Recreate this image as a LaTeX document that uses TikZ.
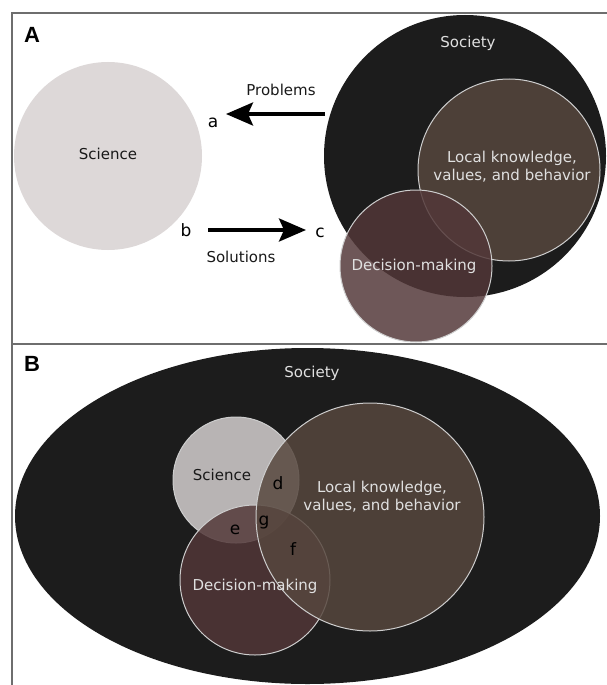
\documentclass[tikz,border=0pt]{standalone}
\usepackage{fontspec}
\setmainfont{DejaVu Sans}
\newfontfamily\panelfont{Liberation Sans}
\usetikzlibrary{arrows.meta}
\usetikzlibrary{shapes.geometric}

\definecolor{societyblack}{RGB}{28,28,28}
\definecolor{sciencegray}{RGB}{221,216,216}
\definecolor{localbrown}{RGB}{87,71,62}
\definecolor{decisionmauve}{RGB}{82,55,56}
\definecolor{rimgray}{RGB}{205,205,205}
\definecolor{framegray}{RGB}{110,110,110}

\tikzset{
	sphere/.style = {shape = circle, inner sep = 0pt},
	rim/.style = {draw = rimgray, line width = 1pt},
	lighttext/.style = {text = white!88!black,
		font = \fontsize{15}{18}\selectfont,
		align = center},
	darktext/.style = {text = black!90,
		font = \fontsize{15}{18}\selectfont},
	letter/.style = {text = black, font = \fontsize{17}{20}\selectfont},
	flow/.style = {line width = 3.5pt,
		-{Stealth[length = 27pt, width = 23pt, inset = 5pt]}},
	panel/.style = {font = \panelfont\bfseries\fontsize{22}{24}\selectfont}
}

\begin{document}
\begin{tikzpicture}[x = 1pt, y = -1pt]

	\useasboundingbox (0,0) rectangle (607,685);

	% panel A
	\draw (108,156) node[sphere,
			   		 fill = sciencegray,
			   		 minimum size = 188pt](scienceA){};
	\draw (465,156) node[sphere,
			   		 fill = societyblack,
			   		 minimum size = 282pt](societyA){};
	\draw (509,170) node[sphere, rim,
			   		 fill = localbrown,
			   		 fill opacity = 0.84,
			   		 minimum size = 182pt](localA){};
	\draw (416,266) node[sphere, rim,
			   		 fill = decisionmauve,
			   		 fill opacity = 0.84,
			   		 minimum size = 152pt](decisionA){};

	\node[darktext](scienceTextA) at (108,154){Science};
	\node[lighttext](societyTextA) at (468,43){Society};
	\node[lighttext](localTextA) at (512,167){Local knowledge,\\values, and behavior};
	\node[lighttext](decisionTextA) at (414,266){Decision-making};

	\node[darktext](problems) at (281,90){Problems};
	\node[darktext](solutions) at (241,257){Solutions};
	\node[letter](a) at (213,123){a};
	\node[letter](b) at (186,230){b};
	\node[letter](c) at (320,233){c};

	\coordinate (problemsTail) at (325,114);
	\coordinate (problemsTip) at (226,114);
	\coordinate (solutionsTail) at (208,230);
	\coordinate (solutionsTip) at (306,230);

	\draw[flow] (problemsTail) -- (problemsTip);
	\draw[flow] (solutionsTail) -- (solutionsTip);

	% frame
	\draw[framegray, line width = 1.4pt] (12,690) -- (12,13) -- (612,13);
	\draw[framegray, line width = 1.4pt] (12,344) -- (612,344);

	\node[panel](labelA) at (32,35){A};
	\node[panel](labelB) at (32,364){B};

	% panel B
	\draw (307.5,516) node[shape = ellipse,
			   		 inner sep = 0pt,
			   		 fill = societyblack,
			   		 minimum width = 585pt,
			   		 minimum height = 336pt](societyB){};
	\draw (236,480) node[sphere, rim,
			   		 fill = sciencegray,
			   		 fill opacity = 0.81,
			   		 minimum size = 126pt](scienceB){};
	\draw (255,580) node[sphere, rim,
			   		 fill = decisionmauve,
			   		 fill opacity = 0.84,
			   		 minimum size = 150pt](decisionB){};
	\draw (370,517) node[sphere, rim,
			   		 fill = localbrown,
			   		 fill opacity = 0.84,
			   		 minimum size = 228pt](localB){};

	\node[lighttext](societyTextB) at (312,373){Society};
	\node[darktext](scienceTextB) at (222,475){Science};
	\node[lighttext](localTextB) at (382,497){Local knowledge,\\values, and behavior};
	\node[lighttext](decisionTextB) at (255,586){Decision-making};

	\node[letter](d) at (278,483){d};
	\node[letter](e) at (235,530){e};
	\node[letter](g) at (264,523){g};
	\node[letter](f) at (293,549){f};

\end{tikzpicture}
\end{document}
